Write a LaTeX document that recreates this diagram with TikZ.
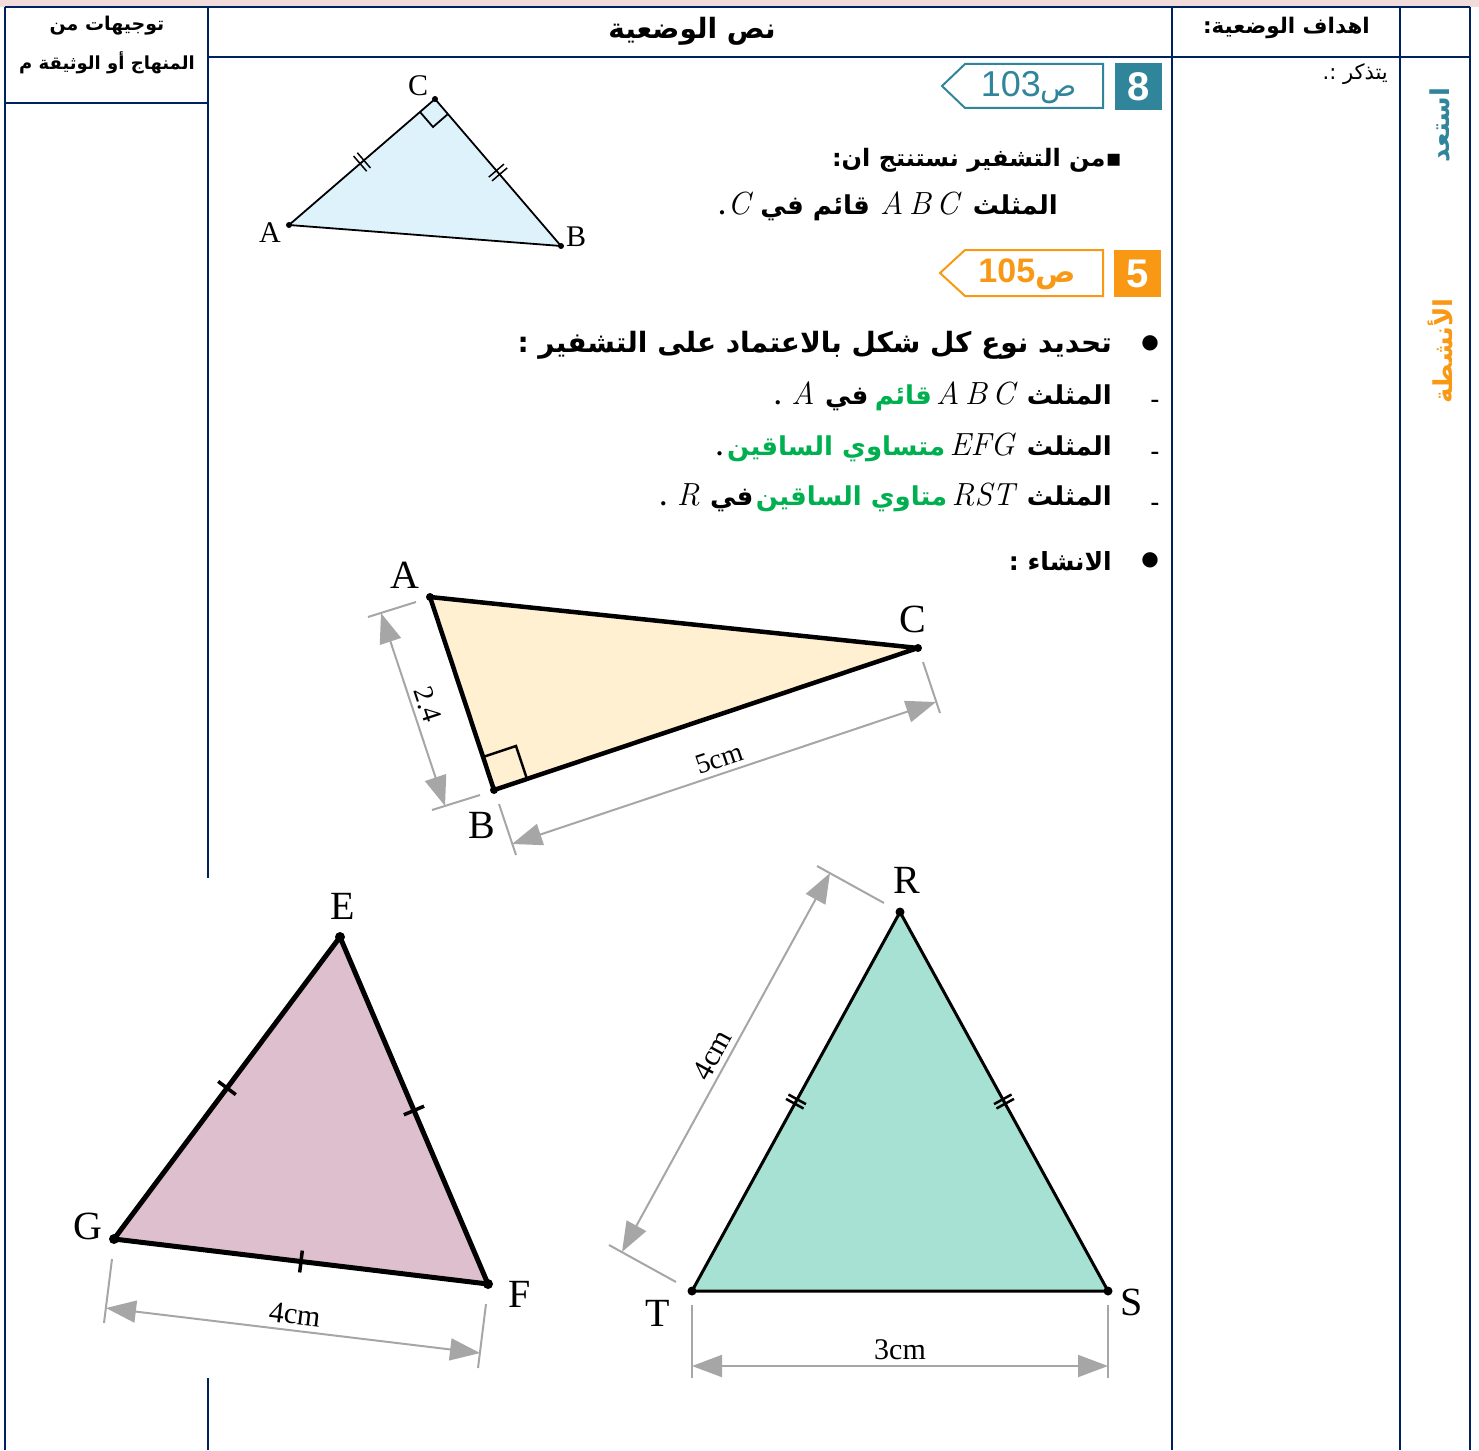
\documentclass[tikz,border=0pt]{standalone}
\usepackage{fontspec}
\setmainfont{Liberation Serif}
\newfontfamily\arabicfont[Script=Arabic]{DejaVu Sans}
\newfontfamily\tagfont{Liberation Sans}
\newfontfamily\lmfont{Latin Modern Roman}
\usetikzlibrary{arrows.meta,decorations.markings,positioning}
\TeXXeTstate=1
\definecolor{navy}{RGB}{0,32,96}
\definecolor{topstrip}{RGB}{242,220,219}
\definecolor{tealbadge}{RGB}{49,133,155}
\definecolor{orangebadge}{RGB}{248,152,20}
\definecolor{greentext}{RGB}{0,176,80}
\definecolor{dimgray}{RGB}{166,166,166}
\definecolor{bluefill}{RGB}{222,242,252}
\definecolor{peachfill}{RGB}{255,240,210}
\definecolor{mauvefill}{RGB}{222,191,206}
\definecolor{mintfill}{RGB}{166,225,212}
\newcommand{\artext}[1]{\arabicfont\beginR #1\endR}

\begin{document}
\begin{tikzpicture}[x=1pt,y=-1pt,
    grid/.style={draw=navy, line width=2.5pt},
    hdr/.style={font=\fontsize{24}{30}\selectfont\bfseries, inner sep=0pt},
    body/.style={font=\fontsize{26}{32}\selectfont\bfseries, inner sep=0pt},
    latin/.style={font=\lmfont\itshape\fontsize{32}{36}\selectfont, inner sep=0pt},
    lbl/.style={font=\fontsize{40}{44}\selectfont, inner sep=0pt},
    smalllbl/.style={font=\fontsize{30}{34}\selectfont, inner sep=0pt},
    dimline/.style={draw=dimgray, line width=2pt},
    dimarr/.style={dimline, {Triangle[length=30pt,width=22pt]}-{Triangle[length=30pt,width=22pt]}},
    dimtxt/.style={font=\fontsize{30}{32}\selectfont, midway, above, sloped, inner sep=5pt},
    tick/.style={postaction={decorate, decoration={markings, mark=at position 0.5 with {\draw[line width=3.5pt] (0,-11pt) -- (0,11pt);}}}},
    dtick/.style={postaction={decorate, decoration={markings, mark=at position 0.5 with {\draw[line width=#1] (-2.5pt,-10pt) -- (-2.5pt,10pt) (2.5pt,-10pt) -- (2.5pt,10pt);}}}},
    badge/.style={minimum size=47pt, inner sep=0pt, text=white, font=\tagfont\bfseries\fontsize{40}{40}\selectfont},
  ]
  \useasboundingbox (0,0) rectangle (1479,1450);
  \fill[topstrip] (0,0) rectangle (1479,7);
  \draw[grid] (5,7) -- (1470,7);
  \draw[grid] (5,7) -- (5,1450);
  \draw[grid] (208,7) -- (208,878);
  \draw[grid] (208,1378) -- (208,1450);
  \draw[grid] (1172,7) -- (1172,1450);
  \draw[grid] (1400,7) -- (1400,1450);
  \draw[grid] (1470,7) -- (1470,1450);
  \draw[grid] (208,57) -- (1470,57);
  \draw[grid] (5,103) -- (208,103);

  \node[hdr, font=\fontsize{19}{24}\selectfont\bfseries] (guide1) at (107,26) {\artext{توجيهات من}};
  \node[hdr, font=\fontsize{18}{24}\selectfont\bfseries] (guide2) at (107,63) {\artext{المنهاج أو الوثيقة م}};
  \node[hdr, font=\fontsize{28}{32}\selectfont\bfseries] (title) at (692,31) {\artext{نص الوضعية}};
  \node[hdr, font=\fontsize{21.5}{26}\selectfont\bfseries, anchor=east] (goals) at (1370,28) {\artext{اهداف الوضعية:}};
  \node[font=\fontsize{21}{24}\selectfont, anchor=east, inner sep=0pt] (recall) at (1388,74) {\artext{يتذكر :.}};
  \node[hdr, font=\fontsize{26}{30}\selectfont\bfseries, rotate=90, text=tealbadge] (ready) at (1440,125) {\artext{استعد}};
  \node[hdr, font=\fontsize{26}{30}\selectfont\bfseries, rotate=90, text=orangebadge] (tasks) at (1440,351) {\artext{الأنشطة}};

  \node[badge, fill=tealbadge] (b8) at (1138.5,86.5) {8};
  \draw[tealbadge, line width=2pt] (1103,64) -- (965,64) -- (942,86) -- (965,108) -- (1103,108) -- cycle;
  \node[text=tealbadge, inner sep=0pt] (p103) at (1029,88) {\tagfont\fontsize{36}{36}\selectfont 103\arabicfont\fontsize{30}{30}\selectfont ص};
  \node[badge, fill=orangebadge] (b5) at (1137.5,273.5) {5};
  \draw[orangebadge, line width=2pt] (1103,250) -- (965,250) -- (940,273) -- (965,296) -- (1103,296) -- cycle;
  \node[text=orangebadge, inner sep=0pt] (p105) at (1027,274) {\tagfont\bfseries\fontsize{34}{34}\selectfont 105\arabicfont\fontsize{30}{30}\selectfont ص};

  \node[body, font=\fontsize{24}{30}\selectfont\bfseries, anchor=base east] (deduce) at (1122,167) {\artext{▪من التشفير نستنتج ان:}};
  \node[body, anchor=base east] (c1) at (1058,214) {\artext{المثلث}};
  \node[latin, base left=14pt of c1] (c2) {A\,B\,C};
  \node[body, base left=10pt of c2] (c3) {\artext{قائم في}};
  \node[latin, base left=10pt of c3] (c4) {C};
  \node[body, base left=2pt of c4] (c5) {.};

  \node[font=\arabicfont\fontsize{20}{20}\selectfont, inner sep=0pt] (dot1) at (1150,343) {●};
  \node[body, font=\fontsize{28}{32}\selectfont\bfseries, anchor=base east] (task) at (1112,352) {\artext{تحديد نوع كل شكل بالاعتماد على التشفير :}};

  \node[body] (dash1) at (1155,404) {-};
  \node[body, anchor=base east] (l1a) at (1112,404) {\artext{المثلث}};
  \node[latin, base left=12pt of l1a] (l1b) {A\,B\,C};
  \node[body, text=greentext, base left=4pt of l1b] (l1c) {\artext{قائم}};
  \node[body, base left=6pt of l1c] (l1d) {\artext{في}};
  \node[latin, base left=10pt of l1d] (l1e) {A};
  \node[body, base left=10pt of l1e] (l1f) {.};

  \node[body] (dash2) at (1155,456) {-};
  \node[body, anchor=base east] (l2a) at (1112,455) {\artext{المثلث}};
  \node[latin, base left=12pt of l2a] (l2b) {EFG};
  \node[body, text=greentext, base left=4pt of l2b] (l2c) {\artext{متساوي الساقين}};
  \node[body, base left=4pt of l2c] (l2d) {.};

  \node[body] (dash3) at (1155,507) {-};
  \node[body, anchor=base east] (l3a) at (1112,505) {\artext{المثلث}};
  \node[latin, base left=12pt of l3a] (l3b) {RST};
  \node[body, text=greentext, base left=4pt of l3b] (l3c) {\artext{متاوي الساقين}};
  \node[body, base left=2pt of l3c] (l3d) {\artext{في}};
  \node[latin, base left=10pt of l3d] (l3e) {R};
  \node[body, base left=10pt of l3e] (l3f) {.};

  \node[font=\arabicfont\fontsize{20}{20}\selectfont, inner sep=0pt] (dot2) at (1150,560) {●};
  \node[body, font=\fontsize{25}{30}\selectfont\bfseries, anchor=base east] (build) at (1112,570) {\artext{الانشاء :}};

  \coordinate (tA) at (289,225);
  \coordinate (tB) at (561,246);
  \coordinate (tC) at (435,99);
  \filldraw[fill=bluefill, draw=black, line width=1.8pt, line join=round] (tA) -- (tB) -- (tC) -- cycle;
  \draw[line width=1.8pt] (420,112) -- (433,127) -- (448,114);
  \path[dtick=1.5pt] (tA) -- (tC);
  \path[dtick=1.5pt] (tC) -- (tB);
  \foreach \p in {tA,tB,tC} \fill (\p) circle (3pt);
  \node[smalllbl] (ltA) at (270,233) {A};
  \node[smalllbl] (ltB) at (576,237) {B};
  \node[smalllbl] (ltC) at (418,86) {C};

  \coordinate (A) at (430,597);
  \coordinate (B) at (494,790);
  \coordinate (C) at (918,648);
  \filldraw[fill=peachfill, draw=black, line width=4.5pt, line join=round] (A) -- (B) -- (C) -- cycle;
  \draw[line width=2.5pt] (483,757) -- (516,746) -- (527,779);
  \foreach \p in {A,B,C} \fill (\p) circle (4pt);
  \node[lbl] (lA) at (405,575) {A};
  \node[lbl] (lB) at (482,825) {B};
  \node[lbl] (lC) at (913,619) {C};
  \coordinate (dA1) at (416,602);
  \coordinate (dA2) at (368,617);
  \coordinate (dB1) at (480,795);
  \coordinate (dB2) at (432,810);
  \coordinate (dB3) at (499,804);
  \coordinate (dB4) at (516,855);
  \coordinate (dC3) at (923,662);
  \coordinate (dC4) at (940,713);
  \coordinate (aAB1) at (381,613);
  \coordinate (aAB2) at (445,806);
  \coordinate (aBC1) at (512,844);
  \coordinate (aBC2) at (936,702);
  \draw[dimline] (dA1) -- (dA2);
  \draw[dimline] (dB1) -- (dB2);
  \draw[dimline] (dB3) -- (dB4);
  \draw[dimline] (dC3) -- (dC4);
  \draw[dimarr] (aAB1) -- (aAB2) node[dimtxt, font=\fontsize{28}{30}\selectfont] (sAB) {2.4};
  \draw[dimarr] (aBC1) -- (aBC2) node[dimtxt, font=\fontsize{28}{30}\selectfont] (sBC) {5cm};

  \coordinate (E) at (340,937);
  \coordinate (F) at (488,1284);
  \coordinate (G) at (114,1239);
  \filldraw[fill=mauvefill, draw=black, line width=5pt, line join=round] (E) -- (F) -- (G) -- cycle;
  \path[tick] (G) -- (E);
  \path[tick] (E) -- (F);
  \path[tick] (G) -- (F);
  \foreach \p in {E,F,G} \fill (\p) circle (5pt);
  \node[lbl] (lE) at (343,906) {E};
  \node[lbl] (lF) at (520,1294) {F};
  \node[lbl] (lG) at (88,1226) {G};
  \coordinate (dG1) at (112,1259);
  \coordinate (dG2) at (104,1323);
  \coordinate (dF1) at (486,1304);
  \coordinate (dF2) at (478,1368);
  \coordinate (aGF1) at (106,1308);
  \coordinate (aGF2) at (480,1353);
  \draw[dimline] (dG1) -- (dG2);
  \draw[dimline] (dF1) -- (dF2);
  \draw[dimarr] (aGF1) -- (aGF2) node[dimtxt] (sGF) {4cm};

  \coordinate (R) at (900,912);
  \coordinate (S) at (1108,1291);
  \coordinate (T) at (692,1291);
  \filldraw[fill=mintfill, draw=black, line width=3pt, line join=round] (R) -- (S) -- (T) -- cycle;
  \path[dtick=2.5pt] (T) -- (R);
  \path[dtick=2.5pt] (R) -- (S);
  \foreach \p in {R,S,T} \fill (\p) circle (4.5pt);
  \node[lbl] (lR) at (907,880) {R};
  \node[lbl] (lS) at (1132,1302) {S};
  \node[lbl] (lT) at (658,1313) {T};
  \coordinate (dT1) at (676,1282);
  \coordinate (dT2) at (609,1245);
  \coordinate (dR1) at (884,903);
  \coordinate (dR2) at (817,866);
  \coordinate (dT3) at (692,1305);
  \coordinate (dT4) at (692,1378);
  \coordinate (dS3) at (1108,1305);
  \coordinate (dS4) at (1108,1378);
  \coordinate (aTR1) at (622,1252);
  \coordinate (aTR2) at (830,873);
  \coordinate (aTS1) at (692,1366);
  \coordinate (aTS2) at (1108,1366);
  \draw[dimline] (dT1) -- (dT2);
  \draw[dimline] (dR1) -- (dR2);
  \draw[dimline] (dT3) -- (dT4);
  \draw[dimline] (dS3) -- (dS4);
  \draw[dimarr] (aTR1) -- (aTR2) node[dimtxt] (sTR) {4cm};
  \draw[dimarr] (aTS1) -- (aTS2) node[dimtxt] (sTS) {3cm};
\end{tikzpicture}
\end{document}
